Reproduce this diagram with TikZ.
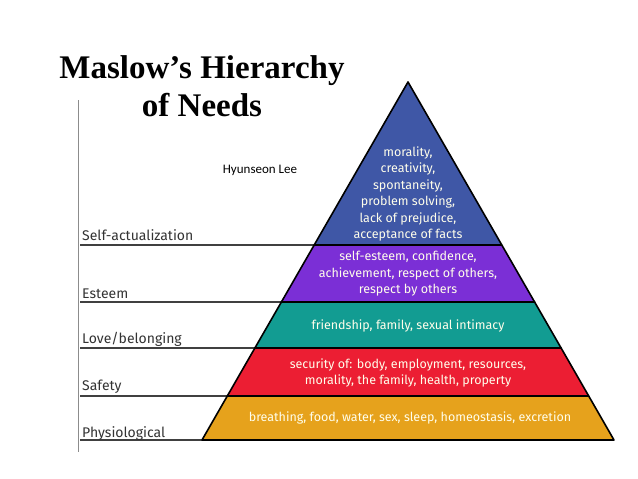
\documentclass[tikz,border=0pt]{standalone}
\usepackage{fontspec}
\setmainfont{Liberation Serif}
\setsansfont{Fira Sans}
\newfontfamily\carfont{Carlito}
\begin{document}
\begin{tikzpicture}[x=1pt,y=-1pt,
  lyr/.style={draw=black,line width=1.6pt,line join=round},
  intxt/.style={font=\sffamily\fontsize{12.5}{16.5}\selectfont,text=white!92!yellow,align=center},
  lab/.style={font=\sffamily\fontsize{14}{16}\selectfont,text=black!80,anchor=base west,inner sep=0pt},
  rule/.style={draw=black!75,line width=1.2pt}]
\useasboundingbox (0,0) rectangle (638,479);
\fill[white] (0,0) rectangle (638,479);
\definecolor{cb}{HTML}{3F57A6}\definecolor{cp}{HTML}{7B2FD6}
\definecolor{ct}{HTML}{129C92}\definecolor{cr}{HTML}{EC1E33}\definecolor{co}{HTML}{E6A21C}
% left rules
\draw[draw=black!45,line width=1pt] (78,100) -- (78,452);
\coordinate (l1) at (80,245);\coordinate (l2) at (80,302);\coordinate (l3) at (80,348);
\coordinate (l4) at (80,396);\coordinate (l5) at (80,440);
\coordinate (p1) at (314.2,245);\coordinate (p2) at (281.4,302);\coordinate (p3) at (254.9,348);
\coordinate (p4) at (227.3,396);\coordinate (p5) at (202,440);
\draw[rule] (l1)--(p1);\draw[rule] (l2)--(p2);\draw[rule] (l3)--(p3);\draw[rule] (l4)--(p4);\draw[rule] (l5)--(p5);
% layers
\filldraw[lyr,fill=co] (227.3,396)--(588.7,396)--(614,440)--(202,440)--cycle;
\filldraw[lyr,fill=cr] (254.9,348)--(561.1,348)--(588.7,396)--(227.3,396)--cycle;
\filldraw[lyr,fill=ct] (281.4,302)--(534.6,302)--(561.1,348)--(254.9,348)--cycle;
\filldraw[lyr,fill=cp] (314.2,245)--(501.8,245)--(534.6,302)--(281.4,302)--cycle;
\filldraw[lyr,fill=cb] (408,82)--(501.8,245)--(314.2,245)--cycle;
% texts
\node[intxt] (t1) at (408,194) {morality,\\creativity,\\spontaneity,\\problem solving,\\lack of prejudice,\\acceptance of facts};
\node[intxt] (t2) at (408,274) {self-esteem, confidence,\\achievement, respect of others,\\respect by others};
\node[intxt] (t3) at (408,326) {friendship, family, sexual intimacy};
\node[intxt] (t4) at (408,373) {security of: body, employment, resources,\\morality, the family, health, property};
\node[intxt] (t5) at (410,418) {breathing, food, water, sex, sleep, homeostasis, excretion};
\node[lab] (a1) at (82,240) {Self-actualization};
\node[lab] (a2) at (82,298) {Esteem};
\node[lab] (a3) at (82,343) {Love/belonging};
\node[lab] (a4) at (82,390) {Safety};
\node[lab] (a5) at (82,437) {Physiological};
% title
\node[font=\bfseries\fontsize{33}{38}\selectfont,align=center,anchor=north] (title) at (202,52) {Maslow’s Hierarchy\\of Needs};
\node[font=\carfont\fontsize{13}{15}\selectfont] (auth) at (260,170) {Hyunseon Lee};
\end{tikzpicture}
\end{document}
